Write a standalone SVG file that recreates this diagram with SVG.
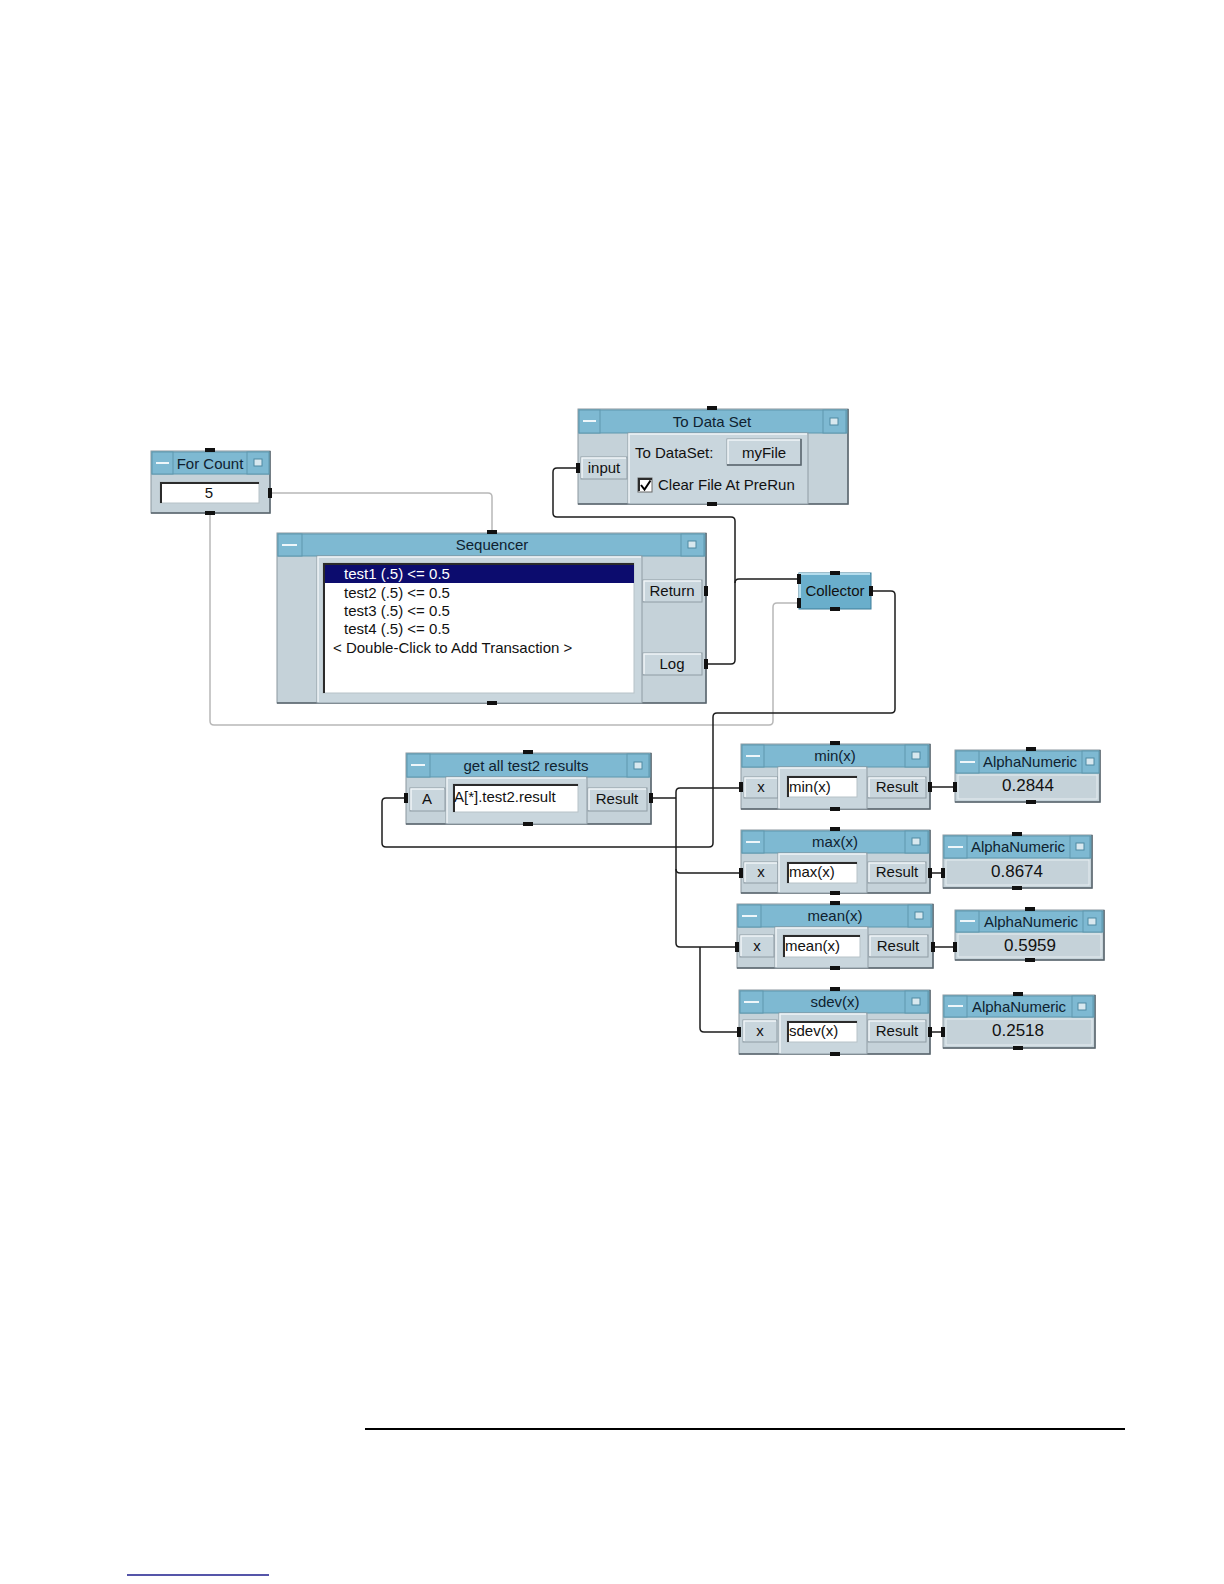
<svg xmlns="http://www.w3.org/2000/svg" width="1224" height="1584" viewBox="0 0 1224 1584">
<style>
.frame{fill:#c5d2d9;stroke:#8b98a0;stroke-width:1}
.shadow{fill:none;stroke:#59656d;stroke-width:1.5}
.tb{fill:#7eb9d2;stroke:#5e97ae;stroke-width:1}
.btn{fill:#c9d6dd;stroke:#8f9ca4;stroke-width:1}
.lit{fill:none;stroke:#f0f5f8;stroke-width:1.5}
.field{fill:#fff;stroke:#b7c2c8;stroke-width:1}
.sunk{fill:none;stroke:#2b2b2b;stroke-width:2}
.pin{fill:#111}
.dash{stroke:#eef6fa;stroke-width:2}
.sq{fill:#d8e8ef;stroke:#4f8aa2;stroke-width:1}
.valbox{fill:#c5d2d9;stroke:#e6edf1;stroke-width:1}
text{font-family:"Liberation Sans",Arial,Helvetica,sans-serif;font-size:15px;fill:#111}
.c{text-anchor:middle}
.ttl{fill:#0e2230}
.val{font-size:17px}
.w{fill:none;stroke:#1c1c1c;stroke-width:1.5}
.s{fill:none;stroke:#b8b8b8;stroke-width:1.5}
</style>

<g id="connectors">
  <path class="s" d="M270,493 H488 Q492,493 492,497 V533"/>
  <path class="s" d="M210,513 V721 Q210,725 214,725 H769 Q773,725 773,721 V607 Q773,603 777,603 H799"/>
  <path class="w" d="M706,664 H731 Q735,664 735,660 V521 Q735,517 731,517 H557 Q553,517 553,513 V472 Q553,468 557,468 H578"/>
  <path class="w" d="M735,583 Q735,579 739,579 H799"/>
  <path class="w" d="M871,591 H891 Q895,591 895,595 V709 Q895,713 891,713 H717 Q713,713 713,717 V843 Q713,847 709,847 H386 Q382,847 382,843 V802 Q382,798 386,798 H406"/>
  <path class="w" d="M651,798 H676"/>
  <path class="w" d="M676,798 V792 Q676,788 680,788 H741"/>
  <path class="w" d="M676,798 V943 Q676,947 680,947 H737"/>
  <path class="w" d="M676,869 Q676,873 680,873 H741"/>
  <path class="w" d="M700,947 V1028 Q700,1032 704,1032 H739"/>
  <path class="w" d="M930,787 H955"/>
  <path class="w" d="M930,873 H943"/>
  <path class="w" d="M933,947 H955"/>
  <path class="w" d="M930,1032 H943"/>
</g>

<g id="for-count">
  <rect class="frame" x="151" y="451" width="119" height="62"/>
  <path class="shadow" d="M270,451 V513 H151"/>
  <rect class="tb" x="152" y="452" width="117" height="22"/>
  <rect class="tb" x="152" y="452" width="21" height="22"/>
  <line class="dash" x1="156" y1="463" x2="169" y2="463"/>
  <rect class="tb" x="247" y="452" width="22" height="22"/>
  <rect class="sq" x="254" y="459" width="8" height="7"/>
  <text class="c ttl" x="210" y="469">For Count</text>
  <rect class="field" x="160" y="482" width="99" height="21"/>
  <path class="sunk" d="M161,503 V483 H259"/>
  <text class="c" x="209" y="498">5</text>
  <rect class="pin" x="205" y="448" width="10" height="4"/>
  <rect class="pin" x="205" y="511" width="10" height="4"/>
  <rect class="pin" x="268" y="488" width="4" height="10"/>
</g>

<g id="to-data-set">
  <rect class="frame" x="578" y="409" width="270" height="95"/>
  <path class="shadow" d="M848,409 V504 H578"/>
  <rect class="tb" x="579" y="410" width="268" height="23"/>
  <rect class="tb" x="579" y="410" width="21" height="23"/>
  <line class="dash" x1="583" y1="421" x2="596" y2="421"/>
  <rect class="tb" x="823" y="410" width="23" height="23"/>
  <rect class="sq" x="830" y="418" width="8" height="7"/>
  <text class="c ttl" x="712" y="427">To Data Set</text>
  <rect class="btn" x="581" y="457" width="46" height="22"/>
  <path class="lit" d="M582,478 V458 H626"/>
  <text class="c" x="604" y="473">input</text>
  <rect class="btn" x="628" y="433" width="180" height="71"/>
  <path class="lit" d="M629,503 V434 H807"/>
  <text x="635" y="458">To DataSet:</text>
  <rect class="btn" x="727" y="439" width="74" height="26"/>
  <path class="lit" d="M728,464 V440 H800"/>
  <path class="shadow" d="M801,439 V465 H727"/>
  <text class="c" x="764" y="458">myFile</text>
  <rect x="638" y="478" width="14" height="14" fill="#fff" stroke="#666"/>
  <path class="sunk" d="M639,491 V479 H652" stroke-width="1.5"/>
  <path d="M641,485 L644.5,489.5 L650.5,480.5" fill="none" stroke="#000" stroke-width="2"/>
  <text x="658" y="490">Clear File At PreRun</text>
  <rect class="pin" x="707" y="406" width="10" height="4"/>
  <rect class="pin" x="707" y="502" width="10" height="4"/>
  <rect class="pin" x="576" y="463" width="4" height="10"/>
</g>

<g id="sequencer">
  <rect class="frame" x="277" y="533" width="429" height="170"/>
  <path class="shadow" d="M706,533 V703 H277"/>
  <rect class="tb" x="278" y="534" width="427" height="22"/>
  <rect class="tb" x="278" y="534" width="24" height="22"/>
  <line class="dash" x1="282" y1="545" x2="297" y2="545"/>
  <rect class="tb" x="681" y="534" width="23" height="22"/>
  <rect class="sq" x="688" y="541" width="8" height="7"/>
  <text class="c ttl" x="492" y="550">Sequencer</text>
  <rect class="btn" x="317" y="556" width="325" height="147"/>
  <path class="lit" d="M318,702 V557 H641"/>
  <rect class="field" x="323" y="563" width="311" height="130"/>
  <path class="sunk" d="M324,693 V564 H634"/>
  <rect x="325" y="565" width="309" height="18" fill="#0c0c6e"/>
  <text x="344" y="579" fill="#fff" style="fill:#fff">test1 (.5) &lt;= 0.5</text>
  <text x="344" y="598">test2 (.5) &lt;= 0.5</text>
  <text x="344" y="616">test3 (.5) &lt;= 0.5</text>
  <text x="344" y="634">test4 (.5) &lt;= 0.5</text>
  <text x="333" y="653">&lt; Double-Click to Add Transaction &gt;</text>
  <rect class="btn" x="643" y="580" width="59" height="22"/>
  <path class="lit" d="M644,601 V581 H701"/>
  <text class="c" x="672" y="596">Return</text>
  <rect class="btn" x="643" y="653" width="59" height="22"/>
  <path class="lit" d="M644,674 V654 H701"/>
  <text class="c" x="672" y="669">Log</text>
  <rect class="pin" x="487" y="530" width="10" height="4"/>
  <rect class="pin" x="487" y="701" width="10" height="4"/>
  <rect class="pin" x="704" y="586" width="4" height="10"/>
  <rect class="pin" x="704" y="659" width="4" height="10"/>
</g>

<g id="collector">
  <rect x="799" y="573" width="72" height="36" fill="#6aaecb" stroke="#3d7c98"/>
  <path d="M800,608 V574 H870" fill="none" stroke="#b4dcec" stroke-width="2"/>
  <text class="c" x="835" y="596">Collector</text>
  <rect class="pin" x="797" y="574" width="4" height="10"/>
  <rect class="pin" x="797" y="598" width="4" height="10"/>
  <rect class="pin" x="869" y="586" width="4" height="10"/>
  <rect class="pin" x="830" y="571" width="10" height="4"/>
  <rect class="pin" x="830" y="607" width="10" height="4"/>
</g>

<g id="get-all-test2-results">
  <rect class="frame" x="406" y="753" width="245" height="71"/>
  <path class="shadow" d="M651,753 V824 H406"/>
  <rect class="tb" x="407" y="754" width="243" height="23"/>
  <rect class="tb" x="407" y="754" width="23" height="23"/>
  <line class="dash" x1="411" y1="765" x2="425" y2="765"/>
  <rect class="tb" x="627" y="754" width="22" height="23"/>
  <rect class="sq" x="634" y="762" width="8" height="7"/>
  <text class="c ttl" x="526" y="771">get all test2 results</text>
  <rect class="btn" x="410" y="788" width="35" height="23"/>
  <path class="lit" d="M411,810 V789 H444"/>
  <text class="c" x="427" y="804">A</text>
  <rect class="btn" x="446" y="777" width="141" height="47"/>
  <path class="lit" d="M447,823 V778 H586"/>
  <rect class="field" x="453" y="784" width="125" height="28"/>
  <path class="sunk" d="M454,812 V785 H578"/>
  <text x="454" y="802">A[*].test2.result</text>
  <rect class="btn" x="588" y="788" width="59" height="23"/>
  <path class="lit" d="M589,810 V789 H646"/>
  <text class="c" x="617" y="804">Result</text>
  <rect class="pin" x="404" y="793" width="4" height="10"/>
  <rect class="pin" x="649" y="793" width="4" height="10"/>
  <rect class="pin" x="523" y="750" width="10" height="4"/>
  <rect class="pin" x="523" y="822" width="10" height="4"/>
</g>

<g id="min-x">
  <rect class="frame" x="741" y="744" width="189" height="65"/>
  <path class="shadow" d="M930,744 V809 H741"/>
  <rect class="tb" x="742" y="745" width="187" height="22"/>
  <rect class="tb" x="742" y="745" width="22" height="22"/>
  <line class="dash" x1="746" y1="756" x2="760" y2="756"/>
  <rect class="tb" x="905" y="745" width="23" height="22"/>
  <rect class="sq" x="912" y="752" width="8" height="7"/>
  <text class="c ttl" x="835" y="761">min(x)</text>
  <rect class="btn" x="744" y="777" width="34" height="21"/>
  <path class="lit" d="M745,797 V778 H777"/>
  <text class="c" x="761" y="792">x</text>
  <rect class="btn" x="778" y="767" width="89" height="42"/>
  <path class="lit" d="M779,808 V768 H866"/>
  <rect class="field" x="787" y="776" width="70" height="21"/>
  <path class="sunk" d="M788,797 V777 H857"/>
  <text x="789" y="792">min(x)</text>
  <rect class="btn" x="868" y="777" width="58" height="21"/>
  <path class="lit" d="M869,797 V778 H925"/>
  <text class="c" x="897" y="792">Result</text>
  <rect class="pin" x="739" y="782" width="4" height="10"/>
  <rect class="pin" x="928" y="782" width="4" height="10"/>
  <rect class="pin" x="830" y="741" width="10" height="4"/>
  <rect class="pin" x="830" y="807" width="10" height="4"/>
</g>

<g id="max-x">
  <rect class="frame" x="741" y="830" width="189" height="63"/>
  <path class="shadow" d="M930,830 V893 H741"/>
  <rect class="tb" x="742" y="831" width="187" height="22"/>
  <rect class="tb" x="742" y="831" width="22" height="22"/>
  <line class="dash" x1="746" y1="842" x2="760" y2="842"/>
  <rect class="tb" x="905" y="831" width="23" height="22"/>
  <rect class="sq" x="912" y="838" width="8" height="7"/>
  <text class="c ttl" x="835" y="847">max(x)</text>
  <rect class="btn" x="744" y="862" width="34" height="21"/>
  <path class="lit" d="M745,882 V863 H777"/>
  <text class="c" x="761" y="877">x</text>
  <rect class="btn" x="778" y="853" width="89" height="40"/>
  <path class="lit" d="M779,892 V854 H866"/>
  <rect class="field" x="787" y="862" width="70" height="21"/>
  <path class="sunk" d="M788,883 V863 H857"/>
  <text x="789" y="877">max(x)</text>
  <rect class="btn" x="868" y="862" width="58" height="21"/>
  <path class="lit" d="M869,882 V863 H925"/>
  <text class="c" x="897" y="877">Result</text>
  <rect class="pin" x="739" y="868" width="4" height="10"/>
  <rect class="pin" x="928" y="868" width="4" height="10"/>
  <rect class="pin" x="830" y="827" width="10" height="4"/>
  <rect class="pin" x="830" y="891" width="10" height="4"/>
</g>

<g id="mean-x">
  <rect class="frame" x="737" y="904" width="196" height="64"/>
  <path class="shadow" d="M933,904 V968 H737"/>
  <rect class="tb" x="738" y="905" width="194" height="22"/>
  <rect class="tb" x="738" y="905" width="23" height="22"/>
  <line class="dash" x1="742" y1="916" x2="757" y2="916"/>
  <rect class="tb" x="908" y="905" width="23" height="22"/>
  <rect class="sq" x="915" y="912" width="8" height="7"/>
  <text class="c ttl" x="835" y="921">mean(x)</text>
  <rect class="btn" x="740" y="935" width="34" height="22"/>
  <path class="lit" d="M741,956 V936 H773"/>
  <text class="c" x="757" y="951">x</text>
  <rect class="btn" x="775" y="927" width="93" height="41"/>
  <path class="lit" d="M776,967 V928 H867"/>
  <rect class="field" x="783" y="935" width="77" height="22"/>
  <path class="sunk" d="M784,957 V936 H860"/>
  <text x="785" y="951">mean(x)</text>
  <rect class="btn" x="869" y="935" width="59" height="22"/>
  <path class="lit" d="M870,956 V936 H927"/>
  <text class="c" x="898" y="951">Result</text>
  <rect class="pin" x="735" y="942" width="4" height="10"/>
  <rect class="pin" x="931" y="942" width="4" height="10"/>
  <rect class="pin" x="830" y="901" width="10" height="4"/>
  <rect class="pin" x="830" y="966" width="10" height="4"/>
</g>

<g id="sdev-x">
  <rect class="frame" x="739" y="990" width="191" height="64"/>
  <path class="shadow" d="M930,990 V1054 H739"/>
  <rect class="tb" x="740" y="991" width="189" height="22"/>
  <rect class="tb" x="740" y="991" width="23" height="22"/>
  <line class="dash" x1="744" y1="1002" x2="759" y2="1002"/>
  <rect class="tb" x="905" y="991" width="23" height="22"/>
  <rect class="sq" x="912" y="998" width="8" height="7"/>
  <text class="c ttl" x="835" y="1007">sdev(x)</text>
  <rect class="btn" x="743" y="1020" width="34" height="22"/>
  <path class="lit" d="M744,1041 V1021 H776"/>
  <text class="c" x="760" y="1036">x</text>
  <rect class="btn" x="779" y="1013" width="88" height="41"/>
  <path class="lit" d="M780,1053 V1014 H866"/>
  <rect class="field" x="787" y="1021" width="70" height="21"/>
  <path class="sunk" d="M788,1042 V1022 H857"/>
  <text x="789" y="1036">sdev(x)</text>
  <rect class="btn" x="868" y="1020" width="58" height="22"/>
  <path class="lit" d="M869,1041 V1021 H925"/>
  <text class="c" x="897" y="1036">Result</text>
  <rect class="pin" x="737" y="1027" width="4" height="10"/>
  <rect class="pin" x="928" y="1027" width="4" height="10"/>
  <rect class="pin" x="830" y="987" width="10" height="4"/>
  <rect class="pin" x="830" y="1052" width="10" height="4"/>
</g>

<g id="alphanumeric-1">
  <rect class="frame" x="955" y="750" width="145" height="52"/>
  <path class="shadow" d="M1100,750 V802 H955"/>
  <rect class="tb" x="956" y="751" width="143" height="22"/>
  <rect class="tb" x="956" y="751" width="23" height="22"/>
  <line class="dash" x1="960" y1="762" x2="975" y2="762"/>
  <rect class="tb" x="1082" y="751" width="17" height="22"/>
  <rect class="sq" x="1086" y="758" width="8" height="7"/>
  <text class="c ttl" x="1030" y="767">AlphaNumeric</text>
  <rect class="valbox" x="958" y="775" width="139" height="24"/>
  <text class="c val" x="1028" y="791">0.2844</text>
  <rect class="pin" x="953" y="782" width="4" height="10"/>
  <rect class="pin" x="1026" y="747" width="10" height="4"/>
  <rect class="pin" x="1026" y="800" width="10" height="4"/>
</g>

<g id="alphanumeric-2">
  <rect class="frame" x="943" y="835" width="149" height="53"/>
  <path class="shadow" d="M1092,835 V888 H943"/>
  <rect class="tb" x="944" y="836" width="147" height="22"/>
  <rect class="tb" x="944" y="836" width="23" height="22"/>
  <line class="dash" x1="948" y1="847" x2="963" y2="847"/>
  <rect class="tb" x="1070" y="836" width="20" height="22"/>
  <rect class="sq" x="1076" y="843" width="8" height="7"/>
  <text class="c ttl" x="1018" y="852">AlphaNumeric</text>
  <rect class="valbox" x="946" y="860" width="143" height="25"/>
  <text class="c val" x="1017" y="877">0.8674</text>
  <rect class="pin" x="941" y="868" width="4" height="10"/>
  <rect class="pin" x="1012" y="832" width="10" height="4"/>
  <rect class="pin" x="1012" y="886" width="10" height="4"/>
</g>

<g id="alphanumeric-3">
  <rect class="frame" x="955" y="910" width="149" height="50"/>
  <path class="shadow" d="M1104,910 V960 H955"/>
  <rect class="tb" x="956" y="911" width="147" height="21"/>
  <rect class="tb" x="956" y="911" width="23" height="21"/>
  <line class="dash" x1="960" y1="921" x2="975" y2="921"/>
  <rect class="tb" x="1083" y="911" width="19" height="21"/>
  <rect class="sq" x="1088" y="918" width="8" height="7"/>
  <text class="c ttl" x="1031" y="927">AlphaNumeric</text>
  <rect class="valbox" x="958" y="934" width="143" height="23"/>
  <text class="c val" x="1030" y="951">0.5959</text>
  <rect class="pin" x="953" y="942" width="4" height="10"/>
  <rect class="pin" x="1025" y="907" width="10" height="4"/>
  <rect class="pin" x="1025" y="958" width="10" height="4"/>
</g>

<g id="alphanumeric-4">
  <rect class="frame" x="943" y="995" width="152" height="53"/>
  <path class="shadow" d="M1095,995 V1048 H943"/>
  <rect class="tb" x="944" y="996" width="150" height="21"/>
  <rect class="tb" x="944" y="996" width="23" height="21"/>
  <line class="dash" x1="948" y1="1006" x2="963" y2="1006"/>
  <rect class="tb" x="1072" y="996" width="21" height="21"/>
  <rect class="sq" x="1078" y="1003" width="8" height="7"/>
  <text class="c ttl" x="1019" y="1012">AlphaNumeric</text>
  <rect class="valbox" x="946" y="1019" width="146" height="26"/>
  <text class="c val" x="1018" y="1036">0.2518</text>
  <rect class="pin" x="941" y="1027" width="4" height="10"/>
  <rect class="pin" x="1013" y="992" width="10" height="4"/>
  <rect class="pin" x="1013" y="1046" width="10" height="4"/>
</g>

<line x1="365" y1="1429" x2="1125" y2="1429" stroke="#000" stroke-width="2"/>
<line x1="127" y1="1575" x2="269" y2="1575" stroke="#1c1c8c" stroke-width="1.5"/>
</svg>
